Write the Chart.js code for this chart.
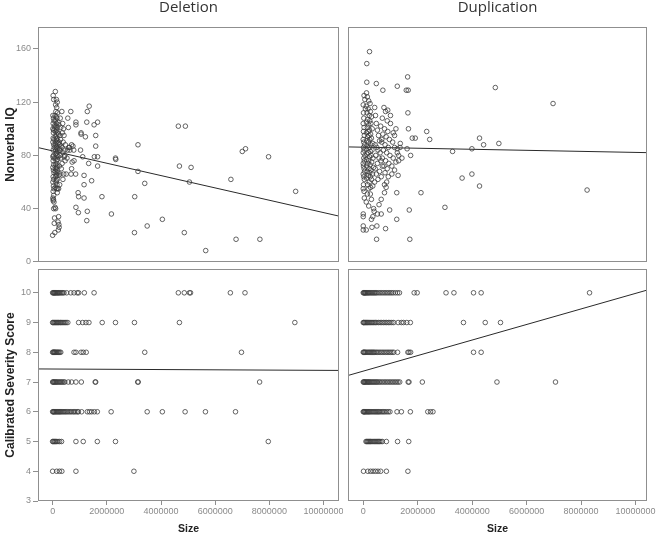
<!DOCTYPE html>
<html><head><meta charset="utf-8">
<script src="https://cdn.jsdelivr.net/npm/chart.js@4"></script>
<style>
body{margin:0;background:#fff;width:656px;height:535px;position:relative;overflow:hidden}
canvas{position:absolute}
</style></head><body>
<canvas id="tl" width="343" height="265" style="left:0;top:0"></canvas>
<canvas id="tr" width="313" height="265" style="left:343px;top:0"></canvas>
<canvas id="bl" width="343" height="270" style="left:0;top:265px"></canvas>
<canvas id="br" width="313" height="270" style="left:343px;top:265px"></canvas>
<script>
// ---------- DATA ----------
const columnTitles = ['Deletion', 'Duplication'];
const yTitleIQ = 'Nonverbal IQ';
const yTitleSev = 'Calibrated Severity Score';
const xTitle = 'Size';
const xTicks = [0, 2000000, 4000000, 6000000, 8000000, 10000000];
const yTicksIQ = [0, 40, 80, 120, 160];
const yTicksSev = [3, 4, 5, 6, 7, 8, 9, 10];

// Deletion: size (bp) vs Nonverbal IQ
const delIQSize = [
20000,40000,10000,30000,50000,20000,60000,10000,40000,30000,20000,50000,10000,40000,60000,20000,30000,10000,50000,20000,40000,10000,30000,50000,20000,40000,10000,30000,50000,20000,40000,10000,30000,20000,0,80000,60000,70000,50000,40000,
100000,140000,170000,110000,150000,120000,180000,90000,130000,160000,100000,200000,140000,120000,170000,90000,150000,110000,190000,130000,100000,160000,140000,180000,120000,200000,100000,150000,130000,170000,110000,190000,140000,120000,160000,100000,180000,130000,150000,110000,170000,140000,120000,160000,100000,190000,130000,150000,110000,170000,140000,120000,160000,100000,180000,140000,170000,90000,110000,220000,200000,230000,240000,210000,220000,230000,240000,250000,210000,250000,230000,220000,260000,280000,300000,270000,290000,260000,310000,280000,300000,270000,320000,260000,
340000,370000,400000,360000,420000,390000,350000,440000,470000,380000,430000,460000,350000,500000,410000,380000,450000,560000,580000,670000,530000,550000,600000,620000,640000,700000,750000,780000,720000,700000,680000,
790000,850000,860000,860000,860000,940000,950000,960000,1050000,1050000,1030000,1110000,1160000,1160000,1160000,1210000,1260000,1260000,1280000,1280000,1330000,1350000,1440000,1530000,1540000,1590000,1590000,1660000,1660000,1660000,1820000,2170000,2320000,2330000,3150000,3150000,3400000,3030000,3020000,3490000,4050000,4640000,4900000,4680000,5110000,5050000,4860000,5650000,6580000,7000000,7120000,7970000,6770000,7650000,8970000
];
const delIQ = [
125,122,110,108,106,104,102,100,99,97,93,92,90,88,86,84,80,79,78,76,73,71,69,67,64,62,60,57,55,53,50,48,47,46,20,22,29,33,45,40,
128,122,120,118,116,113,112,110,109,108,106,105,104,102,101,100,99,98,97,96,94,93,92,91,90,89,88,87,86,85,84,83,82,81,80,78,77,76,74,73,72,71,70,69,68,67,66,65,64,62,61,60,58,56,55,55,52,41,40,34,30,28,26,24,96,103,90,85,79,72,65,55,88,108,101,95,92,84,87,80,78,66,70,58,
113,104,100,97,95,90,86,84,88,82,79,76,74,66,66,62,80,108,101,113,78,84,86,86,84,88,87,84,75,70,66,
76,66,105,103,41,52,37,49,97,96,84,79,65,58,48,94,105,31,113,38,74,117,61,103,79,95,87,105,79,72,49,36,78,77,88,68,59,49,22,27,32,102,102,72,71,60,22,8.5,62,83,85,79,17,17,53
];
const delIQFitX = [-540000, 10570000];
const delIQFitY = [85.9, 34.4];

// Duplication: size (bp) vs Nonverbal IQ
const dupIQSize = [
0,10000,20000,0,30000,10000,40000,0,20000,50000,10000,30000,0,60000,20000,40000,0,10000,30000,50000,0,20000,40000,10000,0,30000,40000,110000,0,0,0,0,110000,60000,30000,80000,
130000,230000,130000,480000,120000,150000,200000,250000,110000,180000,260000,140000,220000,300000,160000,240000,120000,280000,200000,150000,330000,230000,180000,120000,270000,210000,160000,300000,240000,130000,190000,350000,270000,150000,220000,110000,320000,260000,180000,140000,290000,230000,360000,120000,200000,310000,170000,250000,130000,380000,210000,280000,150000,240000,340000,190000,260000,120000,300000,220000,160000,350000,270000,200000,150000,260000,300000,200000,350000,300000,320000,380000,400000,
420000,450000,480000,520000,560000,600000,440000,500000,540000,620000,460000,580000,650000,520000,700000,440000,600000,480000,660000,540000,420000,760000,820000,700000,880000,640000,780000,900000,720000,840000,960000,680000,800000,920000,740000,860000,980000,700000,820000,940000,760000,880000,800000,920000,860000,780000,720000,900000,1000000,840000,780000,660000,580000,660000,520000,500000,820000,970000,490000,1000000,1100000,1150000,1200000,1080000,1150000,1250000,1300000,1100000,1200000,1050000,1150000,1300000,1050000,1250000,
1250000,1580000,1650000,1630000,1640000,1660000,2330000,1800000,1910000,2440000,4270000,4420000,4980000,3990000,3280000,1610000,1740000,1360000,1350000,1420000,2120000,1280000,1230000,3630000,3990000,4270000,8220000,3000000,1690000,1230000,1710000,4850000,6970000,680000
];
const dupIQ = [
118,112,108,104,101,98,95,92,90,88,86,84,82,80,78,76,74,72,70,68,66,64,62,58,55,53,48,45,36,34,27,24,24,122,125,115,
149,158,135,134,127,124,121,119,117,115,113,112,110,109,107,106,105,104,103,101,100,99,98,97,96,95,94,93,92,91,90,89,88,87,86,85,84,83,82,81,80,79,78,77,76,75,74,73,72,71,70,69,68,67,66,65,64,63,62,60,58,57,56,55,51,51,47,42,34,32,26,40,38,
116,110,104,99,95,91,88,86,84,82,80,78,76,74,72,70,68,66,64,62,60,116,113,108,106,102,100,98,96,94,92,90,88,86,84,82,80,78,76,74,72,70,67,64,60,58,129,114,110,56,52,47,43,36,36,27,25,39,17,104,97,95,100,90,86,82,80,78,75,72,69,76,66,85,
132,129,129,139,112,100,98,93,93,92,93,88,89,85,83,85,80,89,86,78,52,65,52,63,66,57,54,41,39,32,17,131,119,92
];
const dupIQFitX = [-560000, 10420000];
const dupIQFitY = [86.4, 82.1];

// Deletion: size (bp) vs Calibrated Severity Score
const delSevSize = [
0,20000,40000,60000,80000,100000,120000,150000,180000,200000,230000,260000,300000,340000,380000,420000,520000,670000,790000,910000,960000,1170000,1530000,4640000,4860000,5050000,5090000,6560000,7100000,
0,20000,50000,80000,110000,140000,170000,200000,230000,270000,300000,340000,380000,420000,460000,500000,560000,960000,1110000,1230000,1340000,1830000,2320000,3020000,4680000,8940000,
0,20000,40000,60000,80000,100000,130000,160000,190000,220000,260000,300000,790000,860000,1050000,1130000,1240000,3400000,6970000,
0,20000,40000,70000,100000,130000,160000,200000,240000,280000,320000,360000,410000,450000,580000,700000,860000,1060000,1570000,1590000,3140000,3160000,7640000,
0,20000,40000,60000,90000,120000,150000,180000,210000,240000,270000,300000,340000,380000,420000,460000,500000,550000,600000,650000,700000,760000,800000,860000,920000,950000,1070000,1280000,1360000,1440000,1540000,1650000,2160000,3490000,4050000,4890000,5640000,6750000,
0,20000,50000,80000,110000,150000,200000,260000,330000,860000,1130000,1650000,2320000,7960000,
0,150000,250000,340000,860000,3000000
];
const delSev = [
10,10,10,10,10,10,10,10,10,10,10,10,10,10,10,10,10,10,10,10,10,10,10,10,10,10,10,10,10,
9,9,9,9,9,9,9,9,9,9,9,9,9,9,9,9,9,9,9,9,9,9,9,9,9,9,
8,8,8,8,8,8,8,8,8,8,8,8,8,8,8,8,8,8,8,
7,7,7,7,7,7,7,7,7,7,7,7,7,7,7,7,7,7,7,7,7,7,7,
6,6,6,6,6,6,6,6,6,6,6,6,6,6,6,6,6,6,6,6,6,6,6,6,6,6,6,6,6,6,6,6,6,6,6,6,6,6,
5,5,5,5,5,5,5,5,5,5,5,5,5,5,
4,4,4,4,4,4
];
const delSevFitX = [-540000, 10570000];
const delSevFitY = [7.44, 7.39];

// Duplication: size (bp) vs Calibrated Severity Score
const dupSevSize = [
0,20000,40000,60000,80000,100000,130000,160000,190000,220000,260000,300000,340000,380000,420000,460000,500000,560000,620000,680000,740000,800000,860000,920000,980000,1040000,1100000,1180000,1260000,1330000,1870000,1980000,3040000,3330000,4050000,4330000,8310000,
0,20000,40000,70000,100000,130000,160000,200000,240000,280000,320000,360000,400000,450000,500000,560000,620000,680000,740000,800000,860000,920000,980000,1050000,1120000,1280000,1400000,1480000,1600000,1730000,3680000,4480000,5040000,
0,20000,40000,70000,100000,140000,180000,220000,260000,300000,340000,380000,420000,470000,520000,580000,640000,700000,760000,820000,880000,940000,1000000,1060000,1120000,1260000,1640000,1680000,1740000,4050000,4330000,
0,20000,40000,60000,90000,120000,150000,180000,210000,240000,280000,320000,360000,400000,440000,480000,520000,570000,620000,680000,740000,800000,860000,920000,980000,1040000,1100000,1160000,1220000,1280000,1340000,1650000,1680000,2170000,4910000,7060000,
0,20000,40000,60000,90000,120000,150000,180000,210000,240000,280000,320000,360000,400000,440000,480000,520000,560000,600000,650000,700000,750000,800000,860000,920000,980000,1240000,1400000,1730000,2370000,2470000,2560000,
100000,130000,160000,190000,220000,250000,280000,320000,360000,400000,440000,480000,520000,560000,600000,650000,700000,850000,1260000,1670000,
10000,170000,270000,360000,450000,540000,640000,850000,1640000
];
const dupSev = [
10,10,10,10,10,10,10,10,10,10,10,10,10,10,10,10,10,10,10,10,10,10,10,10,10,10,10,10,10,10,10,10,10,10,10,10,10,
9,9,9,9,9,9,9,9,9,9,9,9,9,9,9,9,9,9,9,9,9,9,9,9,9,9,9,9,9,9,9,9,9,
8,8,8,8,8,8,8,8,8,8,8,8,8,8,8,8,8,8,8,8,8,8,8,8,8,8,8,8,8,8,8,
7,7,7,7,7,7,7,7,7,7,7,7,7,7,7,7,7,7,7,7,7,7,7,7,7,7,7,7,7,7,7,7,7,7,7,7,
6,6,6,6,6,6,6,6,6,6,6,6,6,6,6,6,6,6,6,6,6,6,6,6,6,6,6,6,6,6,6,6,
5,5,5,5,5,5,5,5,5,5,5,5,5,5,5,5,5,5,5,5,
4,4,4,4,4,4,4,4,4
];
const dupSevFitX = [-560000, 10420000];
const dupSevFitY = [7.22, 10.09];

// ---------- RENDER ----------
const FRAME = '#8f8f8f';
const framePlugin = {
  id: 'frame',
  afterDraw(chart) {
    const a = chart.chartArea, ctx = chart.ctx;
    const x0 = Math.round(a.left) + 0.5, x1 = Math.round(a.right) - 0.5;
    const y0 = Math.round(a.top) + 0.5, y1 = Math.round(a.bottom) - 0.5;
    ctx.save();
    ctx.strokeStyle = FRAME; ctx.lineWidth = 1;
    ctx.strokeRect(x0, y0, x1 - x0, y1 - y0);
    ctx.restore();
  }
};

function pairs(xs, ys) { return xs.map((x, i) => ({x: x, y: ys[i]})); }

function panel(id, o) {
  const tickFont = {family: 'Liberation Sans', size: 9};
  new Chart(document.getElementById(id), {
    type: 'scatter',
    data: {
      datasets: [
        {
          data: pairs(o.xs, o.ys),
          pointStyle: 'circle', pointRadius: 2.3, pointHoverRadius: 2.3,
          borderWidth: 0.8, borderColor: '#3c3c3c', backgroundColor: 'rgba(0,0,0,0)'
        },
        {
          type: 'line', data: pairs(o.fitX, o.fitY),
          borderColor: '#2a2a2a', borderWidth: 1, pointRadius: 0, fill: false, tension: 0
        }
      ]
    },
    options: {
      responsive: false, animation: false, devicePixelRatio: 1,
      layout: {padding: o.padding},
      plugins: {
        legend: {display: false}, tooltip: {enabled: false},
        title: {
          display: !!o.title, text: o.title || '', fullSize: false,
          color: '#333', font: {family: 'Open Sans', size: 15, weight: 'normal', lineHeight: 1},
          padding: {top: 0, bottom: 12}
        }
      },
      scales: {
        x: {
          type: 'linear', min: o.xMin, max: o.xMax, display: o.showX,
          afterBuildTicks: s => { s.ticks = xTicks.map(v => ({value: v})); },
          afterFit: s => { s.height = o.showX ? 34 : 0; s.paddingLeft = 0; s.paddingRight = 0; },
          ticks: {color: '#8a8a8a', font: tickFont, padding: 1, maxRotation: 0, autoSkip: false,
                  callback: v => String(v)},
          grid: {drawOnChartArea: false, drawTicks: true, tickLength: 4, color: FRAME},
          border: {display: false},
          title: {display: true, text: xTitle, color: '#222',
                  font: {family: 'Liberation Sans', size: 10.5, weight: 'bold'}, padding: {top: 0, bottom: 0}}
        },
        y: {
          type: 'linear', min: o.yMin, max: o.yMax, display: o.showY,
          afterBuildTicks: s => { s.ticks = o.yTicks.map(v => ({value: v})); },
          afterFit: s => { s.width = o.showY ? 38 : 0; s.paddingTop = 0; s.paddingBottom = 0; },
          ticks: {color: '#8a8a8a', font: tickFont, padding: 2, autoSkip: false, callback: v => String(v)},
          grid: {drawOnChartArea: false, drawTicks: true, tickLength: 5, color: FRAME},
          border: {display: false},
          title: {display: true, text: o.yTitle, color: '#222',
                  font: {family: 'Liberation Sans', size: 12, weight: 'bold'}, padding: {top: 3, bottom: 0}}
        }
      }
    },
    plugins: [framePlugin]
  });
}

panel('tl', {xs: delIQSize, ys: delIQ, fitX: delIQFitX, fitY: delIQFitY,
  xMin: -540000, xMax: 10570000, yMin: 0, yMax: 176.5, yTicks: yTicksIQ, yTitle: yTitleIQ,
  title: columnTitles[0], showX: false, showY: true, padding: {left: 0, right: 4, top: 0, bottom: 3}});
panel('tr', {xs: dupIQSize, ys: dupIQ, fitX: dupIQFitX, fitY: dupIQFitY,
  xMin: -560000, xMax: 10420000, yMin: 0, yMax: 176.5, yTicks: yTicksIQ, yTitle: yTitleIQ,
  title: columnTitles[1], showX: false, showY: false, padding: {left: 5, right: 9, top: 0, bottom: 3}});
panel('bl', {xs: delSevSize, ys: delSev, fitX: delSevFitX, fitY: delSevFitY,
  xMin: -540000, xMax: 10570000, yMin: 3, yMax: 10.8, yTicks: yTicksSev, yTitle: yTitleSev,
  title: null, showX: true, showY: true, padding: {left: 0, right: 4, top: 4, bottom: 0}});
panel('br', {xs: dupSevSize, ys: dupSev, fitX: dupSevFitX, fitY: dupSevFitY,
  xMin: -560000, xMax: 10420000, yMin: 3, yMax: 10.8, yTicks: yTicksSev, yTitle: yTitleSev,
  title: null, showX: true, showY: false, padding: {left: 5, right: 9, top: 4, bottom: 0}});
</script>
</body></html>
